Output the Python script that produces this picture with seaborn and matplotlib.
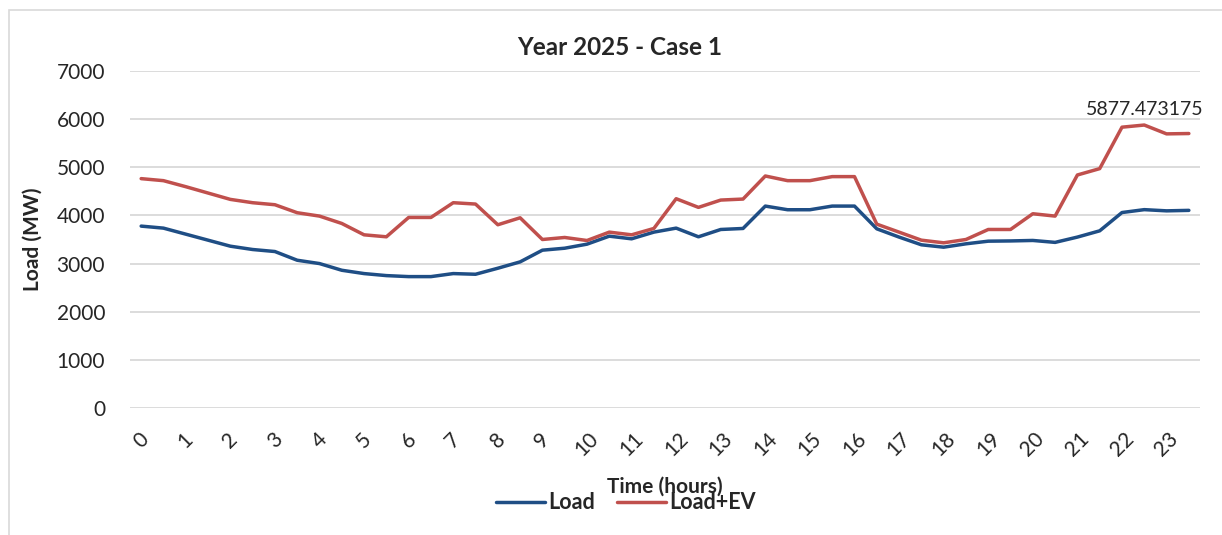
import matplotlib
matplotlib.use("Agg")
import matplotlib.pyplot as plt
import pandas as pd
import seaborn as sns
from matplotlib.patches import Rectangle

# half-hour steps over one day
horas = [0.0, 0.5, 1.0, 1.5, 2.0, 2.5, 3.0, 3.5, 4.0, 4.5, 5.0, 5.5,
         6.0, 6.5, 7.0, 7.5, 8.0, 8.5, 9.0, 9.5, 10.0, 10.5, 11.0, 11.5,
         12.0, 12.5, 13.0, 13.5, 14.0, 14.5, 15.0, 15.5, 16.0, 16.5, 17.0, 17.5,
         18.0, 18.5, 19.0, 19.5, 20.0, 20.5, 21.0, 21.5, 22.0, 22.5, 23.0, 23.5]

load = [3778, 3736, 3611, 3486, 3361, 3292, 3250, 3069, 3000, 2861, 2792, 2750,
        2729, 2729, 2792, 2778, 2903, 3035, 3278, 3319, 3403, 3569, 3514, 3653,
        3736, 3556, 3708, 3729, 4194, 4118, 4118, 4194, 4194, 3722, 3550, 3390,
        3340, 3410, 3465, 3470, 3480, 3440, 3550, 3680, 4060, 4120, 4095, 4105]

load_ev = [4764, 4722, 4597, 4465, 4333, 4264, 4222, 4056, 3986, 3833, 3597, 3556,
           3958, 3958, 4264, 4236, 3806, 3951, 3500, 3542, 3479, 3653, 3597, 3729,
           4347, 4167, 4319, 4340, 4819, 4722, 4722, 4806, 4806, 3819, 3653, 3486,
           3431, 3500, 3708, 3708, 4035, 3986, 4840, 4972, 5833, 5877.473175, 5694, 5701]

series = ["Load", "Load+EV"]
cores = ["#1F4E85", "#C0504D"]
ticks_horas = list(range(24))

df = pd.DataFrame({
    "horas": horas * 2,
    "valor": load + load_ev,
    "serie": [series[0]] * len(load) + [series[1]] * len(load_ev),
})

sns.set_style("white")
plt.rcParams["font.family"] = ["Lato", "DejaVu Sans"]

fig = plt.figure(figsize=(12.22, 5.35), dpi=100)
ax = fig.add_axes([0.1064, 0.2374, 0.8756, 0.6299])

sns.lineplot(data=df, x="horas", y="valor", hue="serie", palette=cores,
             linewidth=2.5, ax=ax, legend=False)

ax.set_xlim(-0.25, 23.75)
ax.set_ylim(0, 7000)
ax.set_yticks(range(0, 7001, 1000))
ax.set_xticks(ticks_horas)
ax.set_xticklabels([str(h) for h in ticks_horas], rotation=45, ha="center", va="top")
ax.tick_params(axis="y", length=0, pad=18, labelsize=15)
ax.tick_params(axis="x", length=0, pad=15, labelsize=15)
ax.grid(axis="y", color="#d9d9d9", linewidth=1.3)
ax.grid(axis="x", visible=False)
for s in ax.spines.values():
    s.set_visible(False)
ax.set_xlabel("")
ax.set_ylabel("Load (MW)", fontsize=15, fontweight="bold", labelpad=10)

# rotulo do pico
i_max = load_ev.index(max(load_ev))
ax.annotate(str(load_ev[i_max]), (horas[i_max], load_ev[i_max]),
            xytext=(0, 5), textcoords="offset points", ha="center", va="bottom",
            fontsize=14)

fig.text(0.507, 0.912, "Year 2025 - Case 1", ha="center", va="center",
         fontsize=17.5, fontweight="bold")
fig.text(0.544, 0.09, "Time (hours)", ha="center", va="center",
         fontsize=15, fontweight="bold")

handles = [plt.Line2D([], [], color=c, linewidth=2.5) for c in cores]
leg = fig.legend(handles, series, loc="center", bbox_to_anchor=(0.512, 0.06),
                 ncol=2, frameon=False, handlelength=2.3, handletextpad=0.15,
                 columnspacing=1.0, prop={"size": 15.5, "weight": "bold"})

# moldura do grafico
fig.patches.append(Rectangle((0.0074, -0.1), 1.2, 1.081, transform=fig.transFigure,
                             fill=False, edgecolor="#d9d9d9", linewidth=1.2))

fig.savefig("out.png", dpi=100)
